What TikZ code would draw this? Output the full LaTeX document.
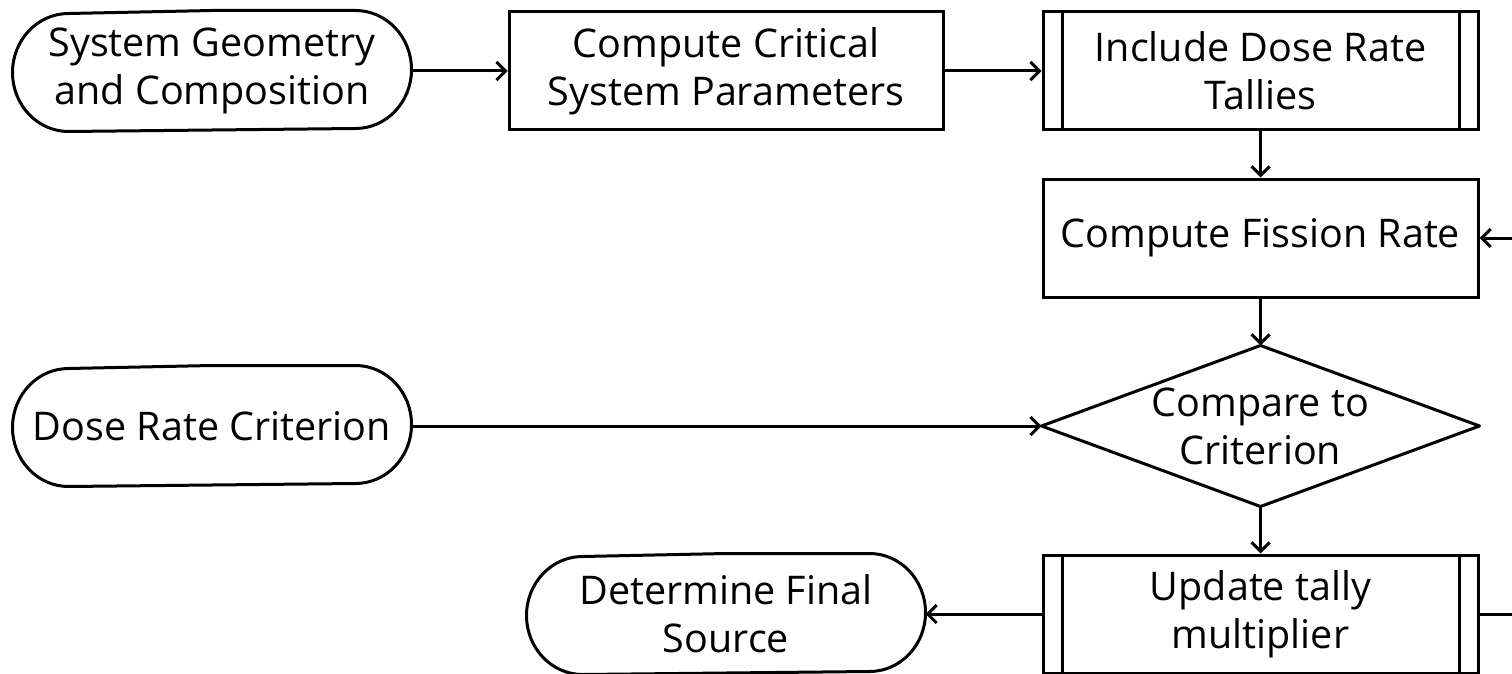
\documentclass[tikz,border=0pt]{standalone}
\usepackage{fontspec}
\setmainfont{Open Sans}
\usetikzlibrary{arrows.meta}

\tikzset{
  base/.style={line width=3pt, align=center, inner sep=0pt,
    font=\fontsize{39.5pt}{48pt}\selectfont},
  box/.style={base, draw, minimum width=435pt, minimum height=118pt},
  predef/.style={box, path picture={
    \draw[line width=3pt]
      ([xshift=19pt]path picture bounding box.north west) -- ([xshift=19pt]path picture bounding box.south west)
      ([xshift=-19pt]path picture bounding box.north east) -- ([xshift=-19pt]path picture bounding box.south east);}},
  terminal/.style={base, minimum width=396pt, minimum height=118pt},
  decision/.style={base, minimum width=435pt, minimum height=158pt},
  outline/.style={line width=3pt, line join=round},
  arr/.style={line width=3pt, -{Straight Barb[length=9pt,width=18pt]}},
}

% terminator outline with rounded ends around a named node
\newcommand\terminatoroutline[1]{%
  \draw[outline] (#1.north) -- ([xshift=-56pt]#1.north east)
    arc[start angle=90, end angle=-90, x radius=56pt, y radius=59pt]
    -- ([xshift=56pt]#1.south west)
    arc[start angle=270, end angle=90, x radius=56pt, y radius=59pt] -- cycle;}

\begin{document}
\begin{tikzpicture}[x=1pt, y=1pt]
\useasboundingbox (0,0) rectangle (1512,-674);

\node[terminal] (geo) at (212,-71) {System Geometry\\and Composition};
\node[box, minimum width=434pt] (crit) at (726,-71) {Compute Critical\\System Parameters};
\node[predef] (tal) at (1260.5,-71) {Include Dose Rate\\Tallies};
\node[box] (fis) at (1260.5,-238) {Compute Fission Rate};
\node[decision] (cmp) at (1260.5,-426) {Compare to\\Criterion};
\node[terminal] (dose) at (212,-426) {Dose Rate Criterion};
\node[predef] (upd) at (1260.5,-614) {Update tally\\multiplier};
\node[terminal] (fin) at (726,-614) {Determine Final\\Source};

\terminatoroutline{geo}
\terminatoroutline{dose}
\terminatoroutline{fin}
\draw[outline] (cmp.north) -- (cmp.east) -- (cmp.south) -- (cmp.west) -- cycle;

\coordinate (loopout) at (1512,-614);
\coordinate (loopin) at (1512,-238);

\draw[arr] (geo) -- (crit);
\draw[arr] (crit) -- (tal);
\draw[arr] (tal) -- (fis);
\draw[arr] (fis) -- (cmp.north);
\draw[arr] (dose) -- (cmp.west);
\draw[arr] (cmp.south) -- (upd);
\draw[arr] (upd) -- (fin);
\draw[outline] (upd.east) -- (loopout);
\draw[arr] (loopin) -- (fis.east);
\end{tikzpicture}
\end{document}
